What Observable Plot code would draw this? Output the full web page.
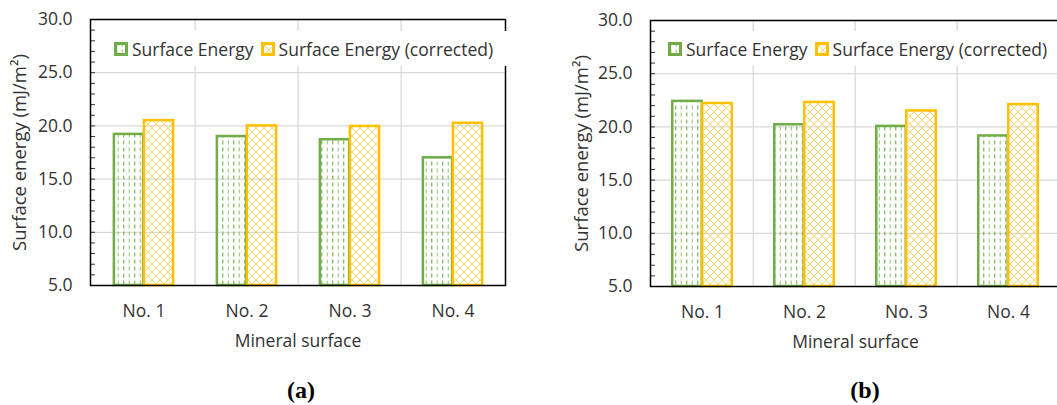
<!DOCTYPE html>
<html>
<head>
<meta charset="utf-8">
<script src="https://cdn.jsdelivr.net/npm/d3@7"></script>
<script src="https://cdn.jsdelivr.net/npm/@observablehq/plot@0.6"></script>
<style>
  html, body { margin: 0; padding: 0; background: #fff; }
  #page { position: relative; width: 1057px; height: 405px; overflow: hidden; background: #fff; font-family: "Open Sans", sans-serif; color: #333; }
  .panel { position: absolute; top: 0; }
  .legend { position: absolute; height: 35px; background: #fff; display: flex; align-items: center; font-size: 17.5px; white-space: nowrap; }
  .legend svg { display: block; margin-right: 4px; }
  .legend .item { display: flex; align-items: center; margin-right: 7px; }
  .tag { position: absolute; top: 377px; width: 60px; margin-left: -30px; text-align: center; font-family: "Liberation Serif", "Times New Roman", serif; font-weight: bold; font-size: 24px; color: #000; }
</style>
</head>
<body>
<svg width="0" height="0" style="position:absolute">
  <defs>
    <!-- dashed vertical hatch for the raw surface energy -->
    <pattern id="dashV" patternUnits="userSpaceOnUse" width="11" height="7">
      <line x1="2.75" y1="0.5" x2="2.75" y2="4.5" stroke="#70AD47" stroke-width="1.1"/>
      <line x1="8.25" y1="0.5" x2="8.25" y2="4.5" stroke="#70AD47" stroke-width="1.1" stroke-opacity="0.7"/>
    </pattern>
    <!-- diagonal trellis for the corrected surface energy -->
    <pattern id="trellis" patternUnits="userSpaceOnUse" width="8" height="8">
      <path d="M0,0 L8,8 M8,0 L0,8" stroke="#FFC000" stroke-width="0.9" stroke-opacity="0.65" fill="none"/>
    </pattern>
  </defs>
</svg>
<div id="page"></div>
<script>
const categories = ["No. 1", "No. 2", "No. 3", "No. 4"];
const energyA = [19.2, 19.0, 18.7, 17.0];
const correctedA = [20.5, 20.0, 19.95, 20.25];
const energyB = [22.4, 20.2, 20.05, 19.15];
const correctedB = [22.2, 22.3, 21.5, 22.1];
const yTicks = [5, 10, 15, 20, 25, 30];
const minorTicks = d3.range(5, 31, 1);
const seriesNames = ["Surface Energy", "Surface Energy (corrected)"];
const yTitle = "Surface energy (mJ/m²)";
const xTitle = "Mineral surface";
const panelTags = ["(a)", "(b)"];

const GREEN = "#70AD47";
const GOLD = "#FFC000";
const FONT = 17.5;

function panel({energy, corrected, width, height, ml, mr, mt, mb, titleDx}) {
  const bw = (width - ml - mr) / categories.length;
  const barW = 30;
  const rows = categories.map((c, i) => ({category: c, energy: energy[i], corrected: corrected[i]}));
  return Plot.plot({
    width, height,
    marginLeft: ml, marginRight: mr, marginTop: mt, marginBottom: mb,
    style: {fontFamily: "Open Sans", fontSize: FONT + "px", color: "#333", background: "transparent", overflow: "visible"},
    x: {domain: categories, padding: 0, axis: null},
    y: {domain: [5, 30], axis: null},
    marks: [
      Plot.gridY(yTicks.slice(1, -1), {stroke: "#d9d9d9", strokeOpacity: 1, strokeWidth: 1.3}),
      Plot.ruleX(categories.slice(1), {x: d => d, dx: -bw / 2, stroke: "#d9d9d9", strokeWidth: 1.3}),
      Plot.barY(rows, {x: "category", y1: 5, y2: "energy", insetLeft: bw / 2 - barW, insetRight: bw / 2,
        fill: "url(#dashV)", stroke: GREEN, strokeWidth: 2.5}),
      Plot.barY(rows, {x: "category", y1: 5, y2: "corrected", insetLeft: bw / 2, insetRight: bw / 2 - barW,
        fill: "url(#trellis)", stroke: GOLD, strokeWidth: 2.5}),
      Plot.axisY({ticks: yTicks, tickSize: 0, tickPadding: 18, tickFormat: d => d.toFixed(1), label: null, fontSize: FONT}),
      Plot.axisY({ticks: minorTicks, tickSize: 5, dx: 5, tickFormat: () => "", label: null, stroke: "#333"}),
      Plot.axisX({tickSize: 0, tickPadding: 19, label: null, fontSize: FONT}),
      Plot.frame({stroke: "#000", strokeWidth: 1.5}),
      Plot.text([yTitle], {frameAnchor: "left", textAnchor: "middle", rotate: -90, dx: titleDx, fontSize: 18.5}),
      Plot.text([xTitle], {frameAnchor: "bottom", textAnchor: "middle", dy: 61, fontSize: FONT})
    ]
  });
}

function swatch(pattern, color) {
  const ns = "http://www.w3.org/2000/svg";
  const s = document.createElementNS(ns, "svg");
  s.setAttribute("width", 14); s.setAttribute("height", 14);
  const r = document.createElementNS(ns, "rect");
  r.setAttribute("x", 1.5); r.setAttribute("y", 1.5);
  r.setAttribute("width", 11); r.setAttribute("height", 11);
  r.setAttribute("fill", `url(#${pattern})`);
  r.setAttribute("stroke", color); r.setAttribute("stroke-width", 3);
  s.appendChild(r);
  return s;
}

function legend(left, top, width) {
  const div = document.createElement("div");
  div.className = "legend";
  div.style.left = left + "px"; div.style.top = top + "px"; div.style.width = width + "px";
  div.style.paddingLeft = "7px";
  [["dashV", GREEN], ["trellis", GOLD]].forEach(([p, c], i) => {
    const item = document.createElement("div");
    item.className = "item";
    item.appendChild(swatch(p, c));
    const t = document.createElement("span");
    t.textContent = seriesNames[i];
    item.appendChild(t);
    div.appendChild(item);
  });
  return div;
}

const page = document.getElementById("page");

const a = panel({energy: energyA, corrected: correctedA, width: 530, height: 360, ml: 90, mr: 25, mt: 19, mb: 75, titleDx: -70});
a.classList.add("panel"); a.style.left = "0px";
page.appendChild(a);

const b = panel({energy: energyB, corrected: correctedB, width: 530, height: 360, ml: 120, mr: 0, mt: 20, mb: 74, titleDx: -68});
b.classList.add("panel"); b.style.left = "530px";
page.appendChild(b);

page.appendChild(legend(107, 31, 395));
page.appendChild(legend(661, 31, 396));

panelTags.forEach((t, i) => {
  const d = document.createElement("div");
  d.className = "tag";
  d.style.left = [301, 865][i] + "px";
  d.textContent = t;
  page.appendChild(d);
});
</script>
</body>
</html>
